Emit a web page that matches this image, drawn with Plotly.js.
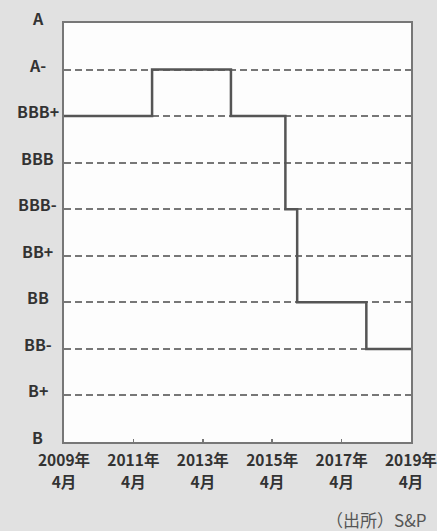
<!DOCTYPE html>
<html>
<head>
<meta charset="utf-8">
<script src="https://cdn.plot.ly/plotly-3.0.1.min.js"></script>
<style>
  html, body { margin: 0; padding: 0; background: #e1e1e1; }
  #chart { width: 437px; height: 531px; }
</style>
</head>
<body>
<div id="chart"></div>
<script>
// Rating history (step changes)
const changeDates = ['2009-04-01', '2011-10-15', '2014-01-22', '2015-08-18', '2015-12-20', '2017-12-17', '2019-04-01'];
const ratings     = ['BBB+',       'A-',         'BBB+',       'BBB-',       'BB',         'BB-',        'BB-'];

// Rating scale, bottom to top
const ratingScale = ['B', 'B+', 'BB-', 'BB', 'BB+', 'BBB-', 'BBB', 'BBB+', 'A-', 'A'];

// X-axis ticks (two label rows: year, month)
const tickDates  = ['2009-04-01', '2011-04-01', '2013-04-01', '2015-04-01', '2017-04-01', '2019-04-01'];
const yearLabels = ['2009年', '2011年', '2013年', '2015年', '2017年', '2019年'];
const monthLabels = ['4月', '4月', '4月', '4月', '4月', '4月'];

const sourceNote = '（出所）S&P';

const FONT = '"Noto Sans CJK JP", "Noto Sans", sans-serif';
const X_RANGE = ['2009-04-01', '2019-04-01'];

const trace = {
  x: changeDates,
  y: ratings,
  type: 'scatter',
  mode: 'lines',
  line: { shape: 'hv', color: '#555555', width: 2.5 },
  hoverinfo: 'skip'
};

// carrier for the second label row (no visible marks)
const monthRowTrace = {
  x: tickDates,
  y: tickDates.map(() => null),
  xaxis: 'x2',
  yaxis: 'y',
  type: 'scatter',
  mode: 'lines',
  line: { width: 0 },
  hoverinfo: 'skip',
  showlegend: false
};

const annotations = ratingScale.map(r => ({
  xref: 'paper', yref: 'y',
  x: -0.076, y: r,
  text: r,
  showarrow: false,
  xanchor: 'center', yanchor: 'middle',
  yshift: 5,
  font: { family: FONT, size: 16, color: '#333333', weight: 'bold' }
}));

annotations.push({
  xref: 'paper', yref: 'paper',
  x: 1.049, y: -0.184,
  text: sourceNote,
  showarrow: false,
  xanchor: 'right', yanchor: 'middle',
  font: { family: FONT, size: 17, color: '#555555' }
});

const tickFont = { family: FONT, size: 15.5, color: '#333333', weight: 'bold' };

const layout = {
  width: 437, height: 531,
  margin: { l: 64, r: 26, t: 23, b: 89, pad: 0 },
  paper_bgcolor: '#e1e1e1',
  plot_bgcolor: '#fdfdfd',
  showlegend: false,
  font: { family: FONT, color: '#333333' },
  xaxis: {
    type: 'date',
    range: X_RANGE,
    tickmode: 'array',
    tickvals: tickDates,
    ticktext: yearLabels,
    ticks: 'inside',
    ticklen: 3,
    tickwidth: 1.5,
    tickcolor: '#777777',
    tickfont: tickFont,
    ticklabelstandoff: 3,
    ticklabeloverflow: 'allow',
    showgrid: false,
    zeroline: false,
    showline: true,
    linecolor: '#777777',
    linewidth: 2,
    mirror: true,
    fixedrange: true
  },
  xaxis2: {
    type: 'date',
    range: X_RANGE,
    overlaying: 'x',
    anchor: 'y',
    side: 'bottom',
    tickmode: 'array',
    tickvals: tickDates,
    ticktext: monthLabels,
    ticks: '',
    tickfont: tickFont,
    ticklabelstandoff: 29,
    ticklabeloverflow: 'allow',
    showgrid: false,
    zeroline: false,
    showline: false,
    fixedrange: true
  },
  yaxis: {
    type: 'category',
    categoryorder: 'array',
    categoryarray: ratingScale,
    range: [0, 9],
    showticklabels: false,
    ticks: '',
    showgrid: true,
    gridcolor: '#777777',
    gridwidth: 2,
    griddash: '7px,4px',
    zeroline: false,
    showline: true,
    linecolor: '#777777',
    linewidth: 2,
    mirror: true,
    fixedrange: true
  },
  annotations: annotations
};

Plotly.newPlot('chart', [trace, monthRowTrace], layout, { displayModeBar: false, staticPlot: true });
</script>
</body>
</html>
